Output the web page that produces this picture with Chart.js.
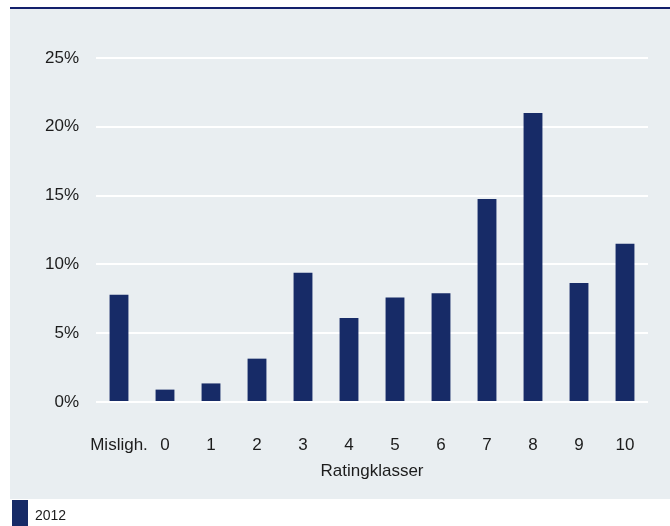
<!DOCTYPE html>
<html>
<head>
<meta charset="utf-8">
<script src="https://cdn.jsdelivr.net/npm/chart.js@4"></script>
<style>
  html, body { margin: 0; padding: 0; width: 670px; height: 526px; overflow: hidden; background: #ffffff; }
  #wrap { position: relative; width: 670px; height: 542px; }
  #topline { position: absolute; left: 10px; top: 7px; width: 660px; height: 2px; background: #13206b; }
  #panel { position: absolute; left: 10px; top: 9px; width: 660px; height: 490px; background: #e9eef1; }
  #c { position: absolute; left: 0; top: 0; }
</style>
</head>
<body>
<div id="wrap">
  <div id="topline"></div>
  <div id="panel"></div>
  <canvas id="c" width="670" height="542"></canvas>
</div>
<script>
// Share of exposure per rating class, 2012 (percent)
const categories = ['Misligh.', '0', '1', '2', '3', '4', '5', '6', '7', '8', '9', '10'];
const values2012 = [7.8, 0.9, 1.35, 3.15, 9.4, 6.1, 7.6, 7.9, 14.75, 21.0, 8.65, 11.5];
const seriesLabel = '2012';
const yTicks = [0, 5, 10, 15, 20, 25];
const xTitle = 'Ratingklasser';

const navy = '#172b67';
const textColor = '#1c1c1c';
const fontFamily = '"Liberation Sans", Arial, sans-serif';

new Chart(document.getElementById('c'), {
  type: 'bar',
  data: {
    labels: categories,
    datasets: [{
      label: seriesLabel,
      data: values2012,
      backgroundColor: navy,
      borderWidth: 0,
      categoryPercentage: 1.0,
      barPercentage: 0.41
    }]
  },
  options: {
    responsive: false,
    animation: false,
    devicePixelRatio: 1,
    layout: { padding: { top: 58, right: 22, left: 0, bottom: 0 } },
    plugins: {
      tooltip: { enabled: false },
      legend: {
        position: 'bottom',
        align: 'start',
        labels: {
          boxWidth: 16,
          boxHeight: 32,
          padding: 12,
          color: textColor,
          font: { family: fontFamily, size: 14 }
        }
      }
    },
    scales: {
      x: {
        grid: { display: false, drawTicks: false },
        border: { display: false },
        ticks: {
          color: textColor,
          padding: 33,
          maxRotation: 0,
          autoSkip: false,
          font: { family: fontFamily, size: 17 }
        },
        title: {
          display: true,
          text: xTitle,
          color: textColor,
          padding: { top: 0, bottom: 6 },
          font: { family: fontFamily, size: 17 }
        },
        afterFit: (scale) => { scale.height = 86; }
      },
      y: {
        min: 0,
        max: 25,
        afterBuildTicks: (scale) => { scale.ticks = yTicks.map(v => ({ value: v })); },
        grid: { color: '#ffffff', lineWidth: 2, drawTicks: false },
        border: { display: false },
        ticks: {
          color: textColor,
          padding: 17,
          font: { family: fontFamily, size: 17 },
          callback: (v) => v + '%'
        },
        afterFit: (scale) => { scale.width = 96; }
      }
    }
  }
});
</script>
</body>
</html>
